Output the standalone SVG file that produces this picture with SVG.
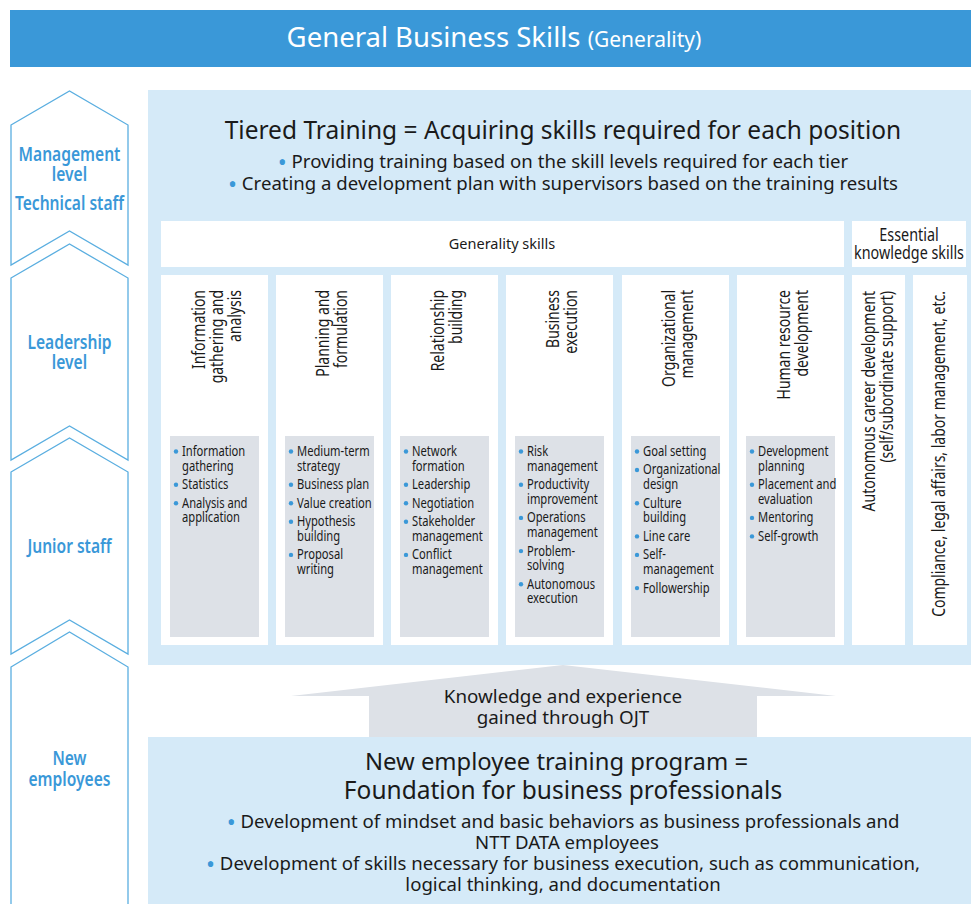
<svg xmlns="http://www.w3.org/2000/svg" width="971" height="904" viewBox="0 0 971 904">
<style>
.bg{fill:#ffffff}
.hdr{fill:#3a98d8}
.panel{fill:#d5eaf8}
.white{fill:#ffffff}
.gray{fill:#dde1e7}
.chev{fill:#ffffff;stroke:#5aaee0;stroke-width:1.3}
.chevt{font-family:"Noto Sans","Open Sans",sans-serif;font-size:19.5px;font-weight:600;fill:#3a98d8;text-anchor:middle}
.sans{font-family:"Noto Sans","Open Sans",sans-serif;fill:#1a1a1a;text-anchor:middle}
.narrow{font-family:"Noto Sans","Open Sans",sans-serif;fill:#1a1a1a}
.vh{font-size:17.5px;text-anchor:end}
.item{font-size:14px}
.dot{fill:#3a98d8}
.arrow{fill:#dde1e7}
</style>
<rect class="bg" x="0" y="0" width="971" height="904"/>

<g id="header">
<rect class="hdr" x="10" y="10" width="961" height="57"/>
<text x="494" y="47" font-family="Noto Sans, Open Sans, sans-serif" font-size="27.5" fill="#ffffff" text-anchor="middle">General Business Skills <tspan font-size="21">(Generality)</tspan></text>
</g>

<g id="tier-management">
<path class="chev" d="M11,125 L69.5,91 L128,125 L128,265 L69.5,231 L11,265 Z"/>
<g transform="translate(69.5,0) scale(0.8,1)">
<text class="chevt" x="0" y="161">Management</text>
<text class="chevt" x="0" y="181">level</text>
<text class="chevt" x="0" y="210">Technical staff</text>
</g>
</g>
<g id="tier-leadership">
<path class="chev" d="M11,278 L69.5,244 L128,278 L128,460 L69.5,426 L11,460 Z"/>
<g transform="translate(69.5,0) scale(0.8,1)">
<text class="chevt" x="0" y="349">Leadership</text>
<text class="chevt" x="0" y="369">level</text>
</g>
</g>
<g id="tier-junior">
<path class="chev" d="M11,472 L69.5,438 L128,472 L128,654 L69.5,620 L11,654 Z"/>
<g transform="translate(69.5,0) scale(0.8,1)">
<text class="chevt" x="0" y="553">Junior staff</text>
</g>
</g>
<g id="tier-new">
<path class="chev" d="M11,667 L69.5,632 L128,667 L128,910 L11,910 Z"/>
<g transform="translate(69.5,0) scale(0.8,1)">
<text class="chevt" x="0" y="765">New</text>
<text class="chevt" x="0" y="786">employees</text>
</g>
</g>

<g id="tiered-training">
<rect class="panel" x="148" y="90" width="823" height="575"/>
<text class="sans" x="563" y="139" font-size="24.5">Tiered Training = Acquiring skills required for each position</text>
<text class="sans" x="563" y="168" font-size="18.6"><tspan class="dot" font-size="24" dy="3">•</tspan><tspan dy="-3"> Providing training based on the skill levels required for each tier</tspan></text>
<text class="sans" x="563" y="190" font-size="18.6"><tspan class="dot" font-size="24" dy="3">•</tspan><tspan dy="-3"> Creating a development plan with supervisors based on the training results</tspan></text>
</g>

<g id="generality-skills">
<rect class="white" x="161" y="221" width="683" height="46"/>
<text class="sans" x="502" y="249" font-size="14.5">Generality skills</text>
</g>
<g id="essential-knowledge">
<rect class="white" x="852" y="221" width="114" height="46"/>
<g transform="translate(909,0) scale(0.82,1)">
<text class="narrow" x="0" y="241" font-size="17.5" text-anchor="middle">Essential</text>
<text class="narrow" x="0" y="259" font-size="17.5" text-anchor="middle">knowledge skills</text>
</g>
</g>

<g id="col-information">
<rect class="white" x="161" y="275" width="107" height="370"/>
<rect class="gray" x="170" y="436" width="89" height="201"/>
<text class="narrow vh" transform="translate(205,290) rotate(-90) scale(0.8,1)"><tspan x="0" y="0">Information</tspan><tspan x="0" y="18">gathering and</tspan><tspan x="0" y="36">analysis</tspan></text>
<circle class="dot" cx="176" cy="451.5" r="2.2"/><circle class="dot" cx="176" cy="484.7" r="2.2"/><circle class="dot" cx="176" cy="503.2" r="2.2"/>
<g class="narrow item" transform="translate(182,0) scale(0.8,1)">
<text x="0" y="456">Information</text><text x="0" y="470.7">gathering</text>
<text x="0" y="489.2">Statistics</text>
<text x="0" y="507.7">Analysis and</text><text x="0" y="522.4">application</text>
</g>
</g>

<g id="col-planning">
<rect class="white" x="276" y="275" width="107" height="370"/>
<rect class="gray" x="285" y="436" width="89" height="201"/>
<text class="narrow vh" transform="translate(329,290) rotate(-90) scale(0.8,1)"><tspan x="0" y="0">Planning and</tspan><tspan x="0" y="18">formulation</tspan></text>
<circle class="dot" cx="291" cy="451.5" r="2.2"/><circle class="dot" cx="291" cy="484.7" r="2.2"/><circle class="dot" cx="291" cy="503.2" r="2.2"/><circle class="dot" cx="291" cy="521.7" r="2.2"/><circle class="dot" cx="291" cy="554.9" r="2.2"/>
<g class="narrow item" transform="translate(297,0) scale(0.8,1)">
<text x="0" y="456">Medium-term</text><text x="0" y="470.7">strategy</text>
<text x="0" y="489.2">Business plan</text>
<text x="0" y="507.7">Value creation</text>
<text x="0" y="526.2">Hypothesis</text><text x="0" y="540.9">building</text>
<text x="0" y="559.4">Proposal</text><text x="0" y="574.1">writing</text>
</g>
</g>

<g id="col-relationship">
<rect class="white" x="391" y="275" width="107" height="370"/>
<rect class="gray" x="400" y="436" width="89" height="201"/>
<text class="narrow vh" transform="translate(444,290) rotate(-90) scale(0.8,1)"><tspan x="0" y="0">Relationship</tspan><tspan x="0" y="18">building</tspan></text>
<circle class="dot" cx="406" cy="451.5" r="2.2"/><circle class="dot" cx="406" cy="484.7" r="2.2"/><circle class="dot" cx="406" cy="503.2" r="2.2"/><circle class="dot" cx="406" cy="521.7" r="2.2"/><circle class="dot" cx="406" cy="554.9" r="2.2"/>
<g class="narrow item" transform="translate(412,0) scale(0.8,1)">
<text x="0" y="456">Network</text><text x="0" y="470.7">formation</text>
<text x="0" y="489.2">Leadership</text>
<text x="0" y="507.7">Negotiation</text>
<text x="0" y="526.2">Stakeholder</text><text x="0" y="540.9">management</text>
<text x="0" y="559.4">Conflict</text><text x="0" y="574.1">management</text>
</g>
</g>

<g id="col-execution">
<rect class="white" x="506" y="275" width="107" height="370"/>
<rect class="gray" x="515" y="436" width="89" height="201"/>
<text class="narrow vh" transform="translate(559,290) rotate(-90) scale(0.8,1)"><tspan x="0" y="0">Business</tspan><tspan x="0" y="18">execution</tspan></text>
<circle class="dot" cx="521" cy="451.5" r="2.2"/><circle class="dot" cx="521" cy="484.7" r="2.2"/><circle class="dot" cx="521" cy="517.9" r="2.2"/><circle class="dot" cx="521" cy="551.1" r="2.2"/><circle class="dot" cx="521" cy="584.3" r="2.2"/>
<g class="narrow item" transform="translate(527,0) scale(0.8,1)">
<text x="0" y="456">Risk</text><text x="0" y="470.7">management</text>
<text x="0" y="489.2">Productivity</text><text x="0" y="503.9">improvement</text>
<text x="0" y="522.4">Operations</text><text x="0" y="537.1">management</text>
<text x="0" y="555.6">Problem-</text><text x="0" y="570.3">solving</text>
<text x="0" y="588.8">Autonomous</text><text x="0" y="603.5">execution</text>
</g>
</g>

<g id="col-organizational">
<rect class="white" x="622" y="275" width="107" height="370"/>
<rect class="gray" x="631" y="436" width="89" height="201"/>
<text class="narrow vh" transform="translate(675,290) rotate(-90) scale(0.8,1)"><tspan x="0" y="0">Organizational</tspan><tspan x="0" y="18">management</tspan></text>
<circle class="dot" cx="637" cy="451.5" r="2.2"/><circle class="dot" cx="637" cy="470" r="2.2"/><circle class="dot" cx="637" cy="503.2" r="2.2"/><circle class="dot" cx="637" cy="536.4" r="2.2"/><circle class="dot" cx="637" cy="554.9" r="2.2"/><circle class="dot" cx="637" cy="588.1" r="2.2"/>
<g class="narrow item" transform="translate(643,0) scale(0.8,1)">
<text x="0" y="456">Goal setting</text>
<text x="0" y="474.5">Organizational</text><text x="0" y="489.2">design</text>
<text x="0" y="507.7">Culture</text><text x="0" y="522.4">building</text>
<text x="0" y="540.9">Line care</text>
<text x="0" y="559.4">Self-</text><text x="0" y="574.1">management</text>
<text x="0" y="592.6">Followership</text>
</g>
</g>

<g id="col-hr">
<rect class="white" x="737" y="275" width="107" height="370"/>
<rect class="gray" x="746" y="436" width="89" height="201"/>
<text class="narrow vh" transform="translate(790,290) rotate(-90) scale(0.8,1)"><tspan x="0" y="0">Human resource</tspan><tspan x="0" y="18">development</tspan></text>
<circle class="dot" cx="752" cy="451.5" r="2.2"/><circle class="dot" cx="752" cy="484.7" r="2.2"/><circle class="dot" cx="752" cy="517.9" r="2.2"/><circle class="dot" cx="752" cy="536.4" r="2.2"/>
<g class="narrow item" transform="translate(758,0) scale(0.8,1)">
<text x="0" y="456">Development</text><text x="0" y="470.7">planning</text>
<text x="0" y="489.2">Placement and</text><text x="0" y="503.9">evaluation</text>
<text x="0" y="522.4">Mentoring</text>
<text x="0" y="540.9">Self-growth</text>
</g>
</g>

<g id="col-career">
<rect class="white" x="852" y="275" width="53" height="370"/>
<text class="narrow vh" transform="translate(875,291) rotate(-90) scale(0.8,1)"><tspan x="0" y="0">Autonomous career development</tspan><tspan x="0" y="18">(self/subordinate support)</tspan></text>
</g>
<g id="col-compliance">
<rect class="white" x="913" y="275" width="54" height="370"/>
<text class="narrow vh" transform="translate(945,291) rotate(-90) scale(0.8,1)">Compliance, legal affairs, labor management, etc.</text>
</g>

<g id="connectors">
<path class="arrow" d="M563,665 L836,696 L757,696 L757,737 L369,737 L369,696 L291,696 Z"/>
<text class="sans" x="563" y="703" font-size="18.8">Knowledge and experience</text>
<text class="sans" x="563" y="724" font-size="18.8">gained through OJT</text>
</g>

<g id="new-employee-training">
<rect class="panel" x="148" y="737" width="823" height="167"/>
<text class="sans" x="556.5" y="770" font-size="23.8">New employee training program =</text>
<text class="sans" x="563" y="799" font-size="24.5">Foundation for business professionals</text>
<text class="sans" x="563" y="828" font-size="18.6"><tspan class="dot" font-size="24" dy="3">•</tspan><tspan dy="-3"> Development of mindset and basic behaviors as business professionals and</tspan></text>
<text class="sans" x="567" y="849" font-size="18.6">NTT DATA employees</text>
<text class="sans" x="563" y="870" font-size="18.6"><tspan class="dot" font-size="24" dy="3">•</tspan><tspan dy="-3"> Development of skills necessary for business execution, such as communication,</tspan></text>
<text class="sans" x="563" y="891" font-size="18.6">logical thinking, and documentation</text>
</g>
</svg>
